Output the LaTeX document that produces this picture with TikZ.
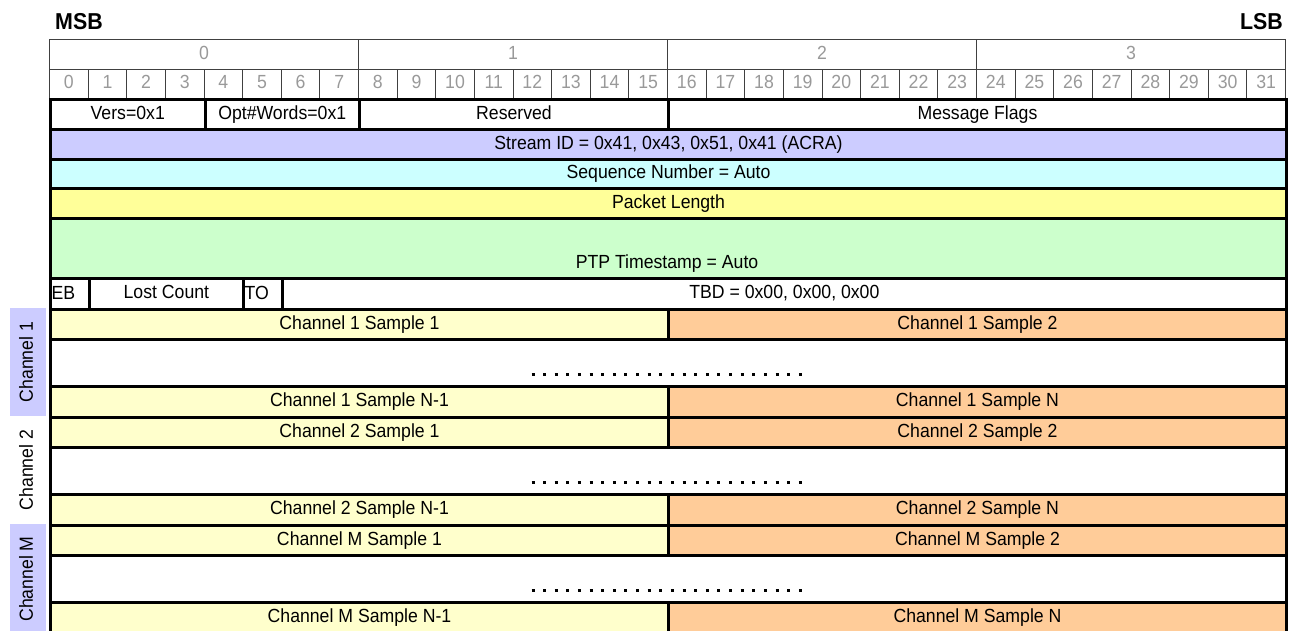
\documentclass[tikz,border=0pt]{standalone}
\usepackage{fontspec}
\setmainfont[FakeStretch=0.93]{Liberation Sans}
\definecolor{lav}{HTML}{CCCCFF}
\definecolor{cyanl}{HTML}{CCFFFF}
\definecolor{yel}{HTML}{FFFF99}
\definecolor{grn}{HTML}{CCFFCC}
\definecolor{smpA}{HTML}{FFFFCC}
\definecolor{smpB}{HTML}{FFCC99}
\definecolor{hdrtxt}{HTML}{999999}
\definecolor{hdrline}{HTML}{404040}
\newcommand\fld[7]{\node[field,fill=#6,minimum width=#4pt,minimum height=#5pt] (#1) at (#2,#3) {#7};}
\newcommand\hdr[6]{\node[hdrcell,minimum width=#4pt,minimum height=#5pt] (#1) at (#2,#3) {#6};}
\begin{document}
\begin{tikzpicture}[x=1pt,y=-1pt,
  txt/.style={font=\fontsize{19}{21}\selectfont,text height=13.6pt,text depth=4pt,inner sep=0pt},
  field/.style={txt,draw=black,line width=3pt,anchor=north west,rectangle},
  hdrcell/.style={txt,draw=hdrline,line width=1pt,anchor=north west,rectangle,text=hdrtxt},
  big/.style={font=\fontsize{23}{25}\selectfont\bfseries,inner sep=0pt}]
\useasboundingbox (0,0) rectangle (1290,630);
\clip (0,0) rectangle (1290,630);
% titles
\node[big,anchor=base west] (msb) at (55,29) {MSB};
\node[big,anchor=base east] (lsb) at (1283,29) {LSB};
% byte header
\foreach \i in {0,1,2,3}{
  \pgfmathsetmacro\xx{49+\i*309}
  \hdr{byte\i}{\xx}{39}{309}{30}{\i}
}
\foreach \b in {0,...,31}{
  \pgfmathsetmacro\xx{49+\b*38.625}
  \hdr{bit\b}{\xx}{69}{38.625}{29}{\b}
}
% header words
\fld{vers}{49}{98}{154.5}{30}{white}{Vers=0x1}
\fld{optw}{203.5}{98}{154.5}{30}{white}{Opt\#Words=0x1}
\fld{resv}{358}{98}{309}{30}{white}{Reserved}
\fld{mflags}{667}{98}{618}{30}{white}{Message Flags}
\fld{sid}{49}{128}{1236}{29.5}{lav}{Stream ID = 0x41, 0x43, 0x51, 0x41 (ACRA)}
\fld{seq}{49}{157.5}{1236}{29.5}{cyanl}{Sequence Number = Auto}
\fld{plen}{49}{187}{1236}{30}{yel}{Packet Length}
\fld{ptp}{49}{217}{1236}{60}{grn}{}
\node[txt,anchor=center] (ptptxt) at (667,263.5) {PTP Timestamp = Auto};
\fld{eb}{49}{277}{38.625}{31}{white}{}
\node[txt,anchor=west] (ebtxt) at (51.5,294.5) {EB};
\fld{lost}{87.625}{277}{154.5}{31}{white}{Lost Count}
\fld{to}{242.125}{277}{38.625}{31}{white}{}
\node[txt,anchor=west] (totxt) at (244.5,294.5) {TO};
\fld{tbd}{280.75}{277}{1004.25}{31}{white}{TBD = 0x00, 0x00, 0x00}
% channel blocks
\foreach \c/\y/\cn in {1/308/1,2/416/2,3/524/M}{
  \pgfmathsetmacro\yb{\y+30}
  \pgfmathsetmacro\yd{\y+77}
  \fld{c\c s1a}{49}{\y}{618}{30}{smpA}{Channel \cn\ Sample 1}
  \fld{c\c s1b}{667}{\y}{618}{30}{smpB}{Channel \cn\ Sample 2}
  \fld{c\c dots}{49}{\yb}{1236}{47}{white}{}
  \fld{c\c sNa}{49}{\yd}{618}{31}{smpA}{Channel \cn\ Sample N-1}
  \fld{c\c sNb}{667}{\yd}{618}{31}{smpB}{Channel \cn\ Sample N}
  \draw[line width=3pt,dash pattern=on 3pt off 8.62pt] ([xshift=-137pt,yshift=-11.5pt]c\c dots.center) -- ([xshift=141pt,yshift=-11.5pt]c\c dots.center);
}
% side labels
\node[txt,fill=lav,minimum width=108pt,minimum height=36pt,rotate=90] (side1) at (28,362) {Channel 1};
\node[txt,fill=white,minimum width=108pt,minimum height=36pt,rotate=90] (side2) at (28,470) {Channel 2};
\node[txt,fill=lav,minimum width=110pt,minimum height=36pt,rotate=90] (side3) at (28,579) {Channel M};
\end{tikzpicture}
\end{document}
